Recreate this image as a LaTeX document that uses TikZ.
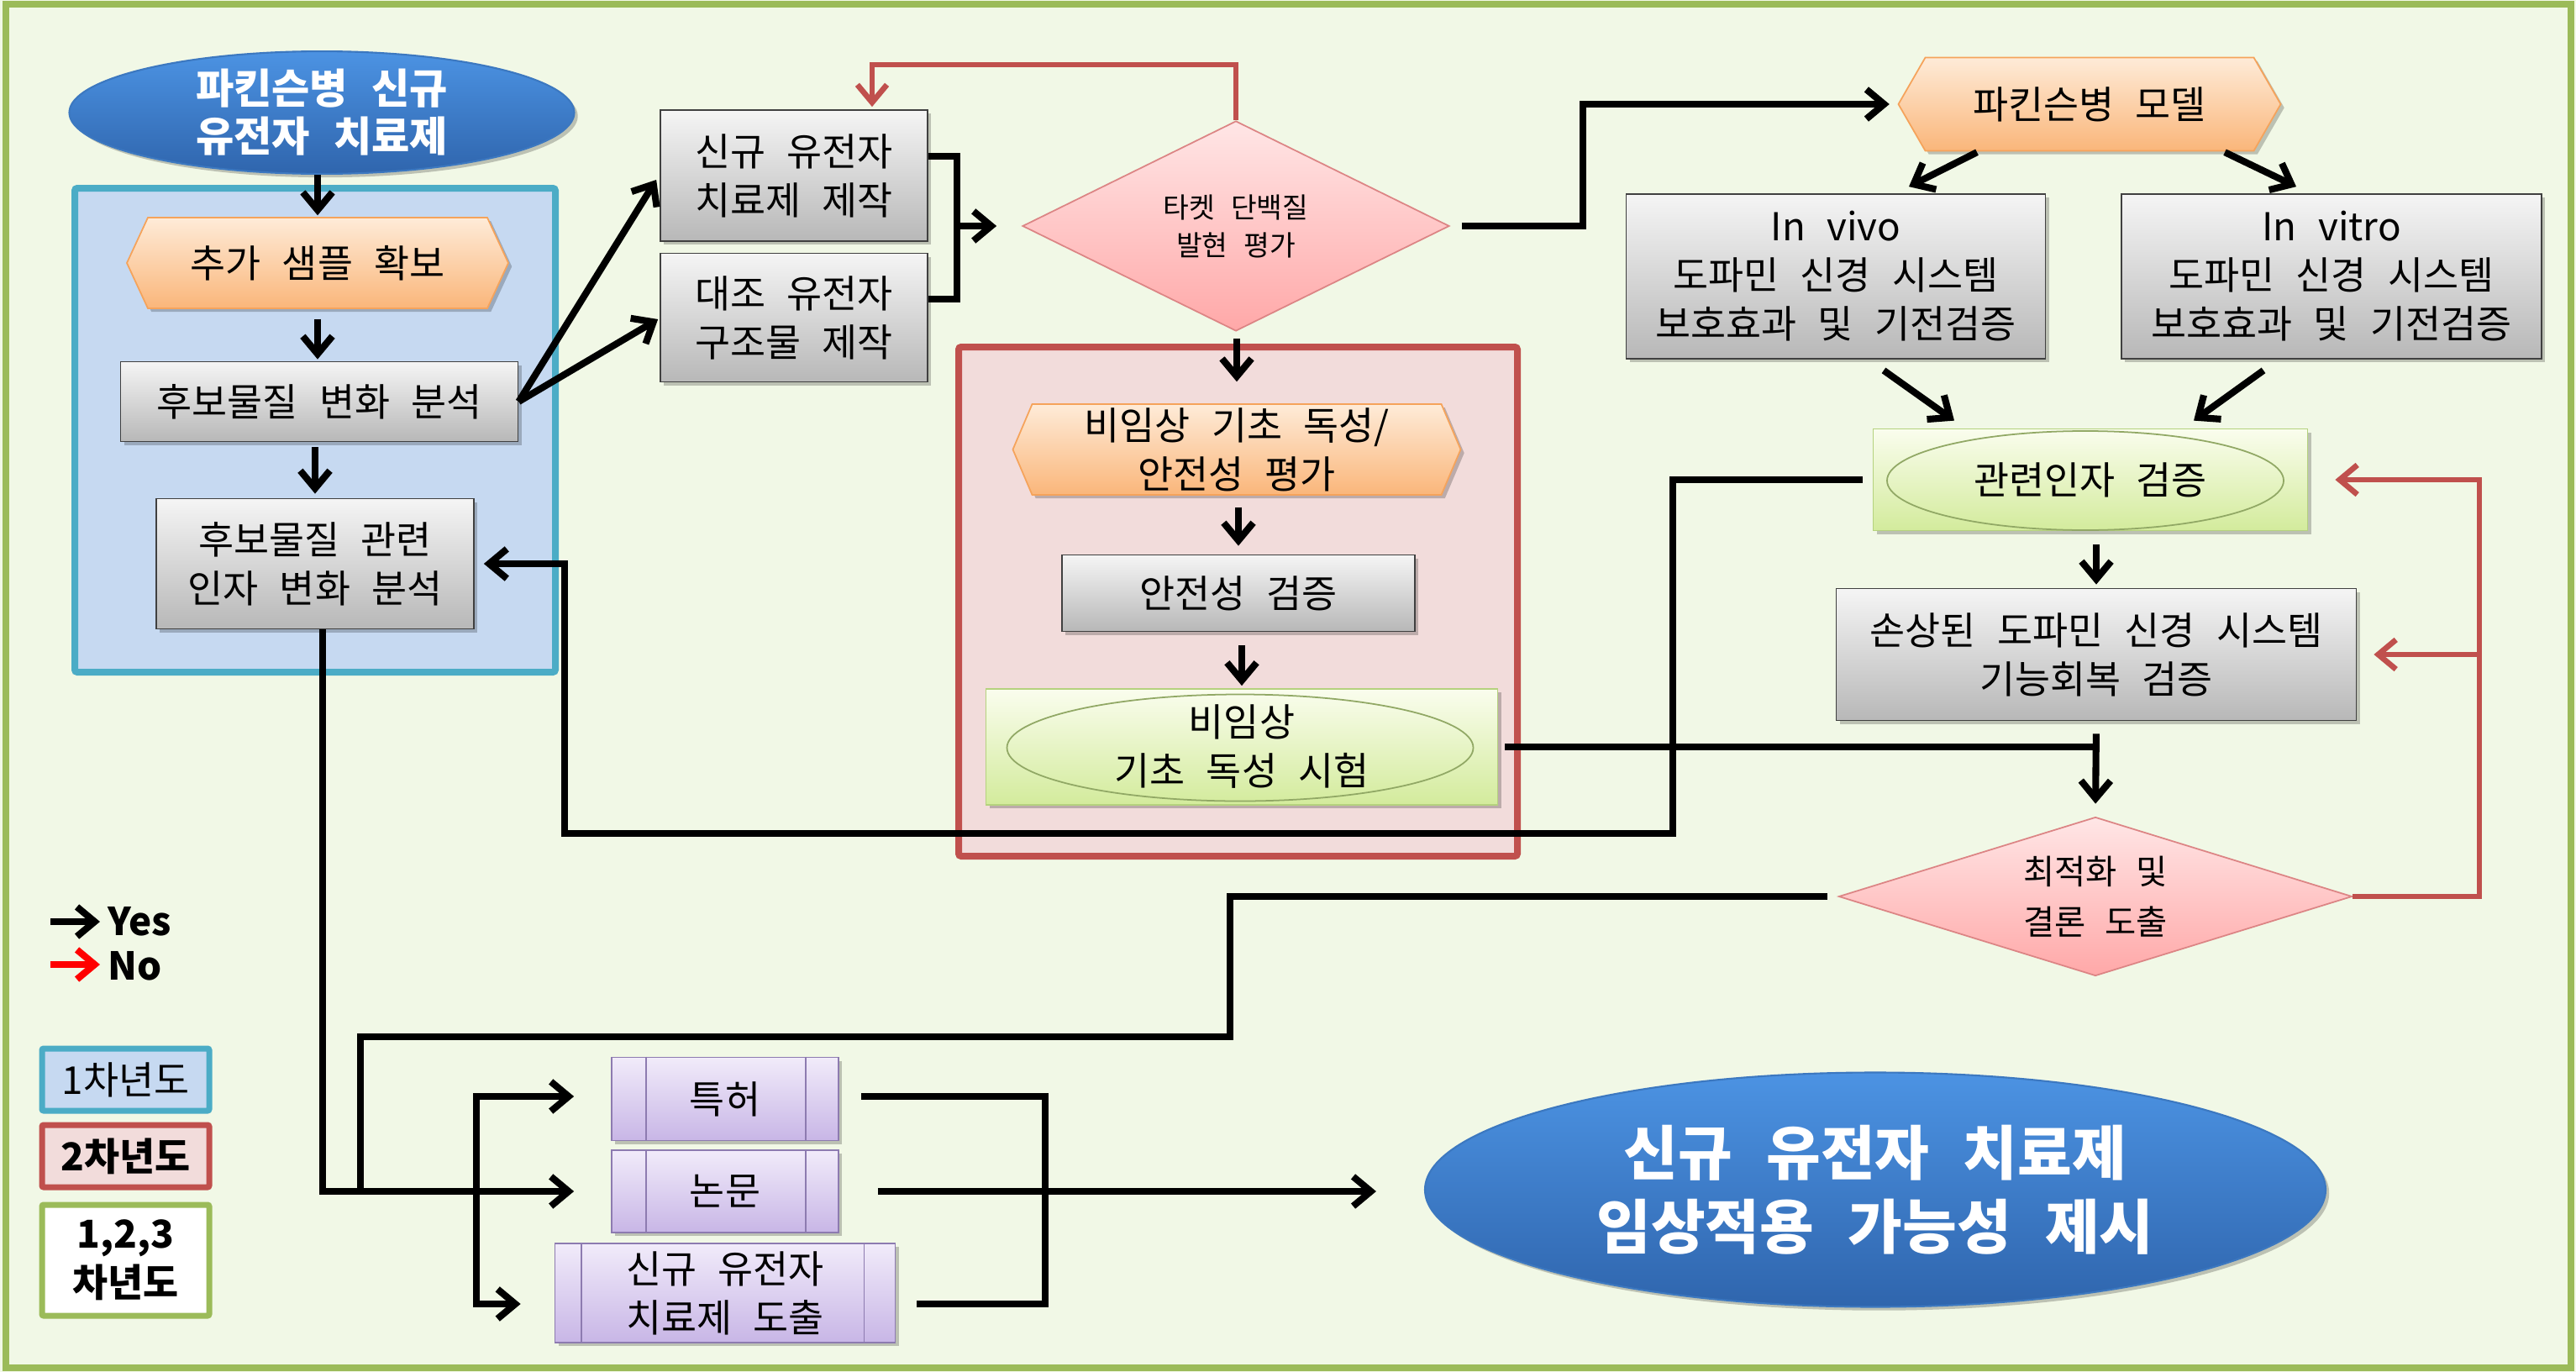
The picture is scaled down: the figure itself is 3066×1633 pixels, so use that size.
\documentclass[tikz,border=0pt]{standalone}
\usepackage{fontspec}
\setmainfont{Noto Sans CJK KR}[WordSpace=2.5]
\usetikzlibrary{arrows.meta,shapes.geometric,calc,shadows}
\newdimen\pxu \pxu=0.01cm
\definecolor{bgc}{HTML}{F1F8E6}
\definecolor{frameC}{HTML}{9BBB59}
\definecolor{blueR}{HTML}{C6D9F1}
\definecolor{blueB}{HTML}{4BACC6}
\definecolor{redR}{HTML}{F2DCDB}
\definecolor{redB}{HTML}{C0504D}
\definecolor{orTop}{HTML}{FEEBD8}
\definecolor{orBot}{HTML}{FAB67A}
\definecolor{orB}{HTML}{F5A35B}
\definecolor{pkTop}{HTML}{FFE6E6}
\definecolor{pkBot}{HTML}{FFA8A8}
\definecolor{pkB}{HTML}{DC8585}
\definecolor{gnTop}{HTML}{FAFDEE}
\definecolor{gnBot}{HTML}{D3EB9C}
\definecolor{gnB}{HTML}{B5D27E}
\definecolor{puTop}{HTML}{F1EBFA}
\definecolor{puBot}{HTML}{C8B6E6}
\definecolor{puB}{HTML}{8D7BB0}
\definecolor{blTop}{HTML}{4C93E3}
\definecolor{blBot}{HTML}{2F65AD}
\definecolor{blB}{HTML}{3C78C0}
\definecolor{legRed}{HTML}{FF0000}
\newcommand\fsbody{\fontsize{13}{16.5}\selectfont}
\newcommand\fsdia{\fontsize{9.5}{12.8}\selectfont}
\newcommand\fsopt{\fontsize{11.5}{17}\selectfont}
\newcommand\fsbig{\fontsize{20}{25}\selectfont\bfseries}
\newcommand\fstop{\fontsize{14}{16.2}\selectfont\bfseries}
\tikzset{softshadow/.style={drop shadow={shadow xshift=1.2pt, shadow yshift=-1.2pt, opacity=0.22, fill=black}}}
% hexagon: name, x, y, w, h, tip depth, text
\newcommand\hexat[7]{%
  \shade[softshadow, top color=orTop, bottom color=orBot, draw=orB, line width=0.5pt]
    ({#2-#4/2},#3) -- ({#2-#4/2+#6},{#3-#5/2}) -- ({#2+#4/2-#6},{#3-#5/2})
    -- ({#2+#4/2},#3) -- ({#2+#4/2-#6},{#3+#5/2}) -- ({#2-#4/2+#6},{#3+#5/2}) -- cycle;
  \node[minimum width=#4\pxu, minimum height=#5\pxu] (#1) at (#2,#3) {#7};}
\begin{document}
\begin{tikzpicture}[x=0.01cm, y=-0.01cm,
  every node/.style={font=\fsbody, align=center, inner sep=0pt, text=black},
  graybox/.style={rectangle, softshadow, draw=black!75, line width=0.5pt, top color=black!4, bottom color=black!28},
  greenbox/.style={rectangle, softshadow, draw=gnB, line width=0.5pt, top color=gnTop, bottom color=gnBot},
  purplebox/.style={rectangle, softshadow, draw=puB, line width=0.5pt, top color=puTop, bottom color=puBot},
  pinkdia/.style={diamond, draw=pkB, line width=0.5pt, top color=pkTop, bottom color=pkBot},
  blueell/.style={ellipse, softshadow, draw=blB, line width=0.6pt, top color=blTop, bottom color=blBot, text=white},
  innerell/.style={draw=gnB!80!black, line width=0.5pt},
  region/.style={line width=8\pxu, rounded corners=3\pxu},
  legbox/.style={rectangle, line width=7\pxu, rounded corners=2\pxu},
  conn/.style={line width=2.3pt, black},
  arr/.style={conn, -{Straight Barb[length=6pt,width=10pt]}},
  noarr/.style={line width=1.9pt, redB, -{Straight Barb[length=6pt,width=10pt]}}
]
\useasboundingbox (0,0) rectangle (3066,1633);
% background and frame
\fill[bgc] (0,0) rectangle (3066,1633);
\draw[frameC, line width=8\pxu] (7,5) rectangle (3060,1628);

% regions
\draw[region, draw=blueB, fill=blueR] (89,224) rectangle (661,800);
\draw[region, draw=redB, fill=redR] (1141,413) rectangle (1806,1019);

% hexagons
\hexat{sample}{378}{313}{454}{108}{25}{추가 샘플 확보}
\hexat{tox}{1472}{535}{533}{108}{23}{비임상 기초 독성/\\안전성 평가}
\hexat{model}{2487}{124}{455}{111}{32}{파킨슨병 모델}

% nodes
\node[blueell, font=\fstop, minimum width=601\pxu, minimum height=137\pxu] (start) at (383,134) {파킨슨병 신규\\유전자 치료제};
\node[graybox, minimum width=473\pxu, minimum height=95\pxu] (anal1) at (380,478) {후보물질 변화 분석};
\node[graybox, minimum width=378\pxu, minimum height=155\pxu] (anal2) at (375,671) {후보물질 관련\\인자 변화 분석};
\node[graybox, minimum width=318\pxu, minimum height=156\pxu] (make1) at (945,209) {신규 유전자\\치료제 제작};
\node[graybox, minimum width=318\pxu, minimum height=153\pxu] (make2) at (945,378) {대조 유전자\\구조물 제작};
\node[pinkdia, aspect=2, font=\fsdia, minimum width=508\pxu, minimum height=250\pxu] (target) at (1471,269) {타켓 단백질\\발현 평가};
\node[graybox, minimum width=420\pxu, minimum height=91\pxu] (safe) at (1474,706) {안전성 검증};
\node[greenbox, minimum width=609\pxu, minimum height=138\pxu] (test) at (1478,889) {비임상\\기초 독성 시험};
\node[innerell, ellipse, minimum width=555\pxu, minimum height=127\pxu] (testell) at (1476,890) {};
\node[graybox, minimum width=499\pxu, minimum height=196\pxu] (vivo) at (2185,329) {In vivo\\도파민 신경 시스템\\보호효과 및 기전검증};
\node[graybox, minimum width=500\pxu, minimum height=196\pxu] (vitro) at (2775,329) {In vitro\\도파민 신경 시스템\\보호효과 및 기전검증};
\node[greenbox, minimum width=517\pxu, minimum height=121\pxu] (factor) at (2488,571) {관련인자 검증};
\node[innerell, ellipse, minimum width=472\pxu, minimum height=118\pxu] (factorell) at (2482,572) {};
\node[graybox, minimum width=619\pxu, minimum height=157\pxu] (restore) at (2495,779) {손상된 도파민 신경 시스템\\기능회복 검증};
\node[pinkdia, aspect=3.2, font=\fsopt, minimum width=611\pxu, minimum height=189\pxu] (opt) at (2494,1067) {최적화 및\\결론 도출};
\node[purplebox, minimum width=270\pxu, minimum height=99\pxu] (patent) at (863,1308) {특허};
\node[purplebox, minimum width=270\pxu, minimum height=98\pxu] (paper) at (863,1418) {논문};
\node[purplebox, minimum width=405\pxu, minimum height=118\pxu] (derive) at (863,1539) {신규 유전자\\치료제 도출};
\node[blueell, font=\fsbig, minimum width=1072\pxu, minimum height=279\pxu] (final) at (2232,1416) {신규 유전자 치료제\\임상적용 가능성 제시};

% inner lines of predefined-process boxes
\foreach \n/\a/\b in {patent/42/40, paper/42/40, derive/32/38}{
  \draw[puB, line width=0.5pt] ([xshift=\a\pxu]\n.north west) -- ([xshift=\a\pxu]\n.south west);
  \draw[puB, line width=0.5pt] ([xshift=-\b\pxu]\n.north east) -- ([xshift=-\b\pxu]\n.south east);
}

% connectors
\draw[arr, shorten >=2\pxu] (sample.north |- start.south) -- (sample.north);
\draw[arr, shorten <=12\pxu, shorten >=2\pxu] (sample.south) -- (anal1.north -| sample.south);
\draw[arr, shorten <=6\pxu, shorten >=5\pxu] (anal2.north |- anal1.south) -- (anal2.north);
\draw[arr] (anal1.east) -- ([shift={(-4,5)}]make1.west);
\draw[arr] (anal1.east) -- ([shift={(-2,2)}]make2.west);
\coordinate (bk) at (1139,269);
\draw[conn] ([yshift=23\pxu]make1.east) -| (bk) |- ([yshift=22\pxu]make2.east);
\draw[arr, shorten >=30\pxu] (bk) -- (bk -| target.west);
\coordinate (r1) at (1038,77);
\draw[noarr, shorten >=3\pxu] (target.north) |- (r1) -- (r1 |- make1.north);
\draw[arr, shorten <=8\pxu, shorten >=26\pxu] (tox.north |- target.south) -- (tox.north);
\draw[arr, shorten <=14\pxu, shorten >=10\pxu] (safe.north |- tox.south) -- (safe.north);
\draw[arr, shorten <=16\pxu, shorten >=3\pxu] (test.north |- safe.south) -- (test.north);
\draw[arr, shorten <=14\pxu, shorten >=10\pxu] (target.east) -- ++(158,0) |- (model.west);
\draw[arr] ([shift={(-134,1)}]model.south) -- ([shift={(87,-8)}]vivo.north);
\draw[arr] ([shift={(161,1)}]model.south) -- ([shift={(-42,-8)}]vitro.north);
\draw[arr] ([shift={(57,13)}]vivo.south) -- ([shift={(-162,-9)}]factor.north);
\draw[arr] ([shift={(-81,13)}]vitro.south) -- ([shift={(123,-9)}]factor.north);
\draw[arr, shorten <=16\pxu, shorten >=4\pxu] (restore.north |- factor.south) -- (restore.north);
\draw[arr, shorten <=15\pxu, shorten >=15\pxu] (restore.south) -- (opt.north);
\draw[conn, shorten <=8\pxu] (test.east) -- (test.east -| restore.south);
\coordinate (c1) at (1991,992);
\coordinate (c2) at (672,992);
\draw[arr, shorten <=12\pxu, shorten >=11\pxu] (factor.west) -| (c1) -- (c2) |- (anal2.east);
\coordinate (c3) at (1464,1234);
\coordinate (c4) at (429,1418);
\draw[conn, shorten <=13\pxu] (opt.west) -| (c3) -| (c4);
\draw[arr, shorten >=44\pxu] ([xshift=9\pxu]anal2.south) |- (paper.west);
\coordinate (c5) at (567,1418);
\draw[arr, shorten >=44\pxu] (c5) |- ([yshift=3\pxu]patent.west);
\draw[arr, shorten >=40\pxu] (c5) |- ([yshift=-13\pxu]derive.west);
\coordinate (c6) at (1244,1552);
\draw[conn, shorten <=26\pxu, shorten >=25\pxu] ([yshift=3\pxu]patent.east) -| (c6) -- (c6 -| derive.east);
\draw[arr, shorten <=46\pxu, shorten >=57\pxu] (paper.east) -- (paper.east -| final.west);
\coordinate (c7) at (2951,571);
\coordinate (c8) at (2951,779);
\draw[noarr, shorten >=32\pxu] (opt.east) -| (c7) -- (factor.east);
\draw[noarr, shorten >=20\pxu] (c8) -- (restore.east);

% legend
\coordinate (ly1) at (60,1097);
\coordinate (ly2) at (119,1097);
\coordinate (ln1) at (60,1148);
\coordinate (ln2) at (119,1148);
\draw[arr] (ly1) -- (ly2);
\draw[arr, legRed] (ln1) -- (ln2);
\node[anchor=west, font=\fsbody\bfseries] (yes) at (128,1097) {Yes};
\node[anchor=west, font=\fsbody\bfseries] (no) at (128,1150) {No};
\node[legbox, draw=blueB, fill=blueR, minimum width=199\pxu, minimum height=74\pxu] (y1) at (149.5,1285) {1차년도};
\node[legbox, draw=redB, fill=redR, font=\fsbody\bfseries, minimum width=199\pxu, minimum height=74\pxu] (y2) at (149.5,1376) {2차년도};
\node[legbox, draw=frameC, fill=white, font=\fsbody\bfseries, minimum width=199\pxu, minimum height=132\pxu] (y3) at (149.5,1500) {1,2,3\\차년도};
\end{tikzpicture}
\end{document}
